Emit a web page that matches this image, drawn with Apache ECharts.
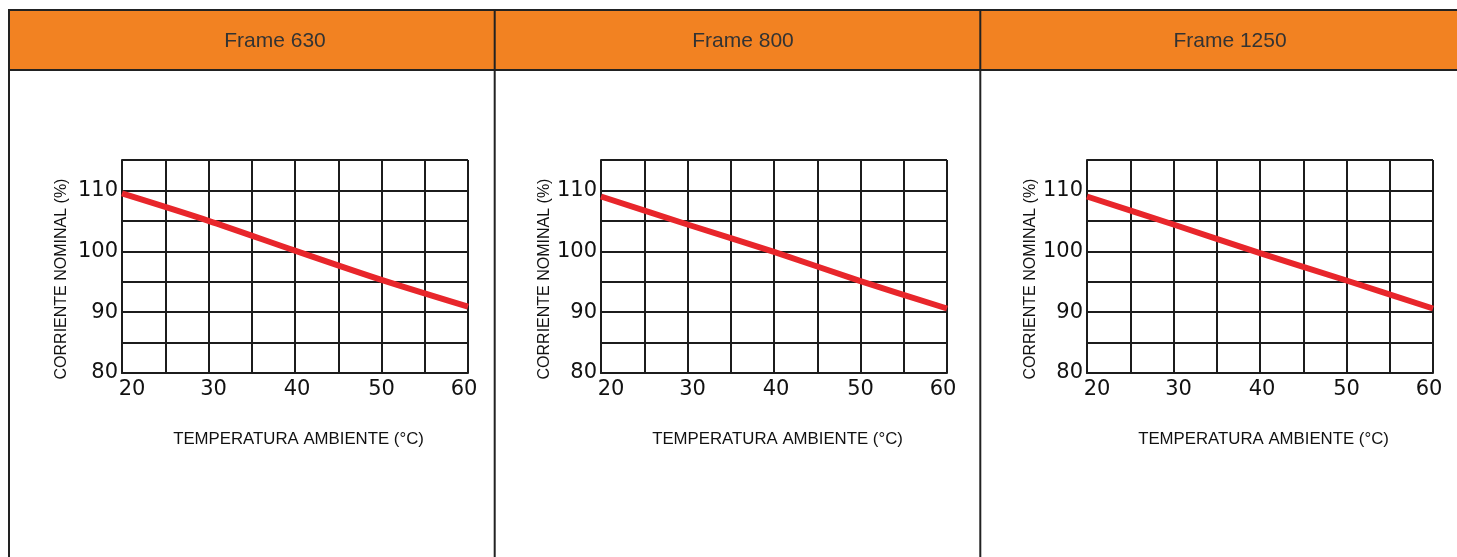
<!DOCTYPE html>
<html>
<head>
<meta charset="utf-8">
<script src="https://cdn.jsdelivr.net/npm/echarts@6/dist/echarts.min.js"></script>
<style>
html,body{margin:0;padding:0;background:#fff;}
#c{width:1457px;height:557px;}
</style>
</head>
<body>
<div id="c"></div>
<script>
// ---- data ----
const panelTitles = ['Frame 630', 'Frame 800', 'Frame 1250'];
const temperatures = [20, 30, 40, 50, 60];
const frame630 = [109.5, 105, 100.1, 95.3, 90.9];
const frame800 = [109, 104.4, 99.9, 95.1, 90.6];
const frame1250 = [109, 104.4, 99.7, 95.2, 90.6];
const yTickLabels = [80, 90, 100, 110];
const xTickLabels = [20, 30, 40, 50, 60];
const xAxisName = 'TEMPERATURA AMBIENTE (°C)';
const yAxisName = 'CORRIENTE NOMINAL (%)';

const seriesData = [frame630, frame800, frame1250];

// ---- layout / style ----
const gridLefts = [122, 601, 1087];
const yNameGaps = [52, 47, 47];
const titleCenters = [275, 743, 1230];
const dividers = [9, 494.7, 980.3];
const lineColor = '#1c1c1c';
const labelFont = "'Liberation Sans', Arial, sans-serif";
const tickFont = "'DejaVu Sans', sans-serif";
const xLabelShift = {20: [0,0,0,20], 30: [0,0,0,10], 40: [0,0,0,4], 50: [0,0,0,0], 60: [0,8,0,0]};

const rich = {};
xTickLabels.forEach(v => {
  rich['o' + v] = {fontSize: 21, fontFamily: tickFont, color: '#111', padding: xLabelShift[v]};
});

const grids = [], xAxes = [], yAxes = [], series = [];
gridLefts.forEach((left, i) => {
  grids.push({left: left, top: 160, width: 346, height: 213, containLabel: false});
  xAxes.push({
    type: 'value', gridIndex: i, min: 20, max: 60, interval: 5,
    name: xAxisName, nameLocation: 'middle', nameGap: 58,
    nameTextStyle: {fontSize: 16.8, fontFamily: labelFont, color: '#111', padding: [0, 0, 0, 7]},
    axisLine: {show: true, lineStyle: {color: lineColor, width: 2}},
    axisTick: {show: false},
    splitLine: {show: true, lineStyle: {color: lineColor, width: 2}},
    axisLabel: {
      margin: 6, fontSize: 21, fontFamily: tickFont, color: '#111', rich: rich,
      formatter: v => xTickLabels.indexOf(v) >= 0 ? '{o' + v + '|' + v + '}' : ''
    }
  });
  yAxes.push({
    type: 'value', gridIndex: i, min: 80, max: 115, interval: 5,
    name: yAxisName, nameLocation: 'middle', nameGap: yNameGaps[i],
    nameTextStyle: {fontSize: 16, fontFamily: labelFont, color: '#111', padding: [0, 25, 0, 0]},
    axisLine: {show: true, lineStyle: {color: lineColor, width: 2}},
    axisTick: {show: false},
    splitLine: {show: true, lineStyle: {color: lineColor, width: 2}},
    axisLabel: {
      margin: 4, fontSize: 21, fontFamily: tickFont, color: '#111',
      formatter: v => yTickLabels.indexOf(v) >= 0 ? String(v) : ''
    }
  });
  series.push({
    type: 'line', xAxisIndex: i, yAxisIndex: i,
    data: temperatures.map((t, k) => [t, seriesData[i][k]]),
    showSymbol: false, smooth: 0.3,
    lineStyle: {color: '#E8262B', width: 6, cap: 'butt'},
    z: 5
  });
});

const graphics = [
  {type: 'rect', shape: {x: 9, y: 10, width: 1448, height: 60}, style: {fill: '#F28222'}, z: -10},
  {type: 'line', shape: {x1: 8, y1: 10, x2: 1457, y2: 10}, style: {stroke: '#222', lineWidth: 2}},
  {type: 'line', shape: {x1: 8, y1: 70, x2: 1457, y2: 70}, style: {stroke: '#222', lineWidth: 2}}
];
dividers.forEach(x => {
  graphics.push({type: 'line', shape: {x1: x, y1: 9, x2: x, y2: 557}, style: {stroke: '#222', lineWidth: 2}});
});
panelTitles.forEach((t, i) => {
  graphics.push({type: 'text', x: titleCenters[i], y: 41,
    style: {text: t, fontSize: 21, fontFamily: labelFont, fill: '#333', textAlign: 'center', textVerticalAlign: 'middle'}});
});

const chart = echarts.init(document.getElementById('c'), null, {renderer: 'canvas'});
chart.setOption({
  backgroundColor: '#fff',
  animation: false,
  grid: grids, xAxis: xAxes, yAxis: yAxes, series: series,
  graphic: graphics
});
</script>
</body>
</html>
